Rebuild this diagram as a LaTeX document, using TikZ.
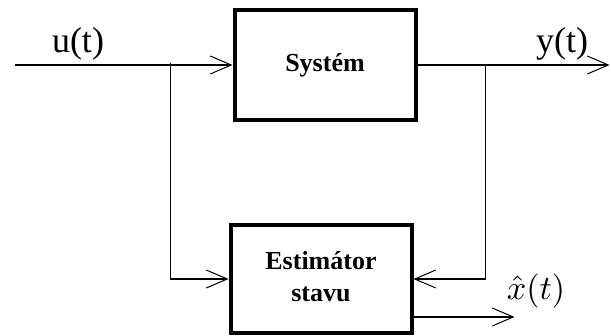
\documentclass[tikz,border=0pt]{standalone}
\usepackage{fontspec}
\setmainfont{Liberation Serif}
\usetikzlibrary{positioning, arrows.meta}

\begin{document}
\begin{tikzpicture}[x=1pt, y=1pt,
		blok/.style={draw, line width=4pt, minimum width=181pt, font=\fontsize{26}{32}\selectfont\bfseries, align=center},
		sig/.style={line width=1.2pt, -{Straight Barb[length=21pt, width=18pt, line width=1pt]}},
		lbl/.style={font=\fontsize{36}{42}\selectfont}]
		\useasboundingbox (0,0) rectangle (611,335);
		\node[blok, minimum height=110pt] (sys) at (325,270) {Systém};
		\node[blok, minimum height=108pt, below=101pt of sys, xshift=-4pt] (est)
			{\raisebox{-7pt}{\begin{tabular}{@{}c@{}}Estimátor\\stavu\end{tabular}}};
		
		\coordinate (in) at ([xshift=-218pt]sys.west);
		\coordinate (out) at ([xshift=192pt]sys.east);
		\coordinate (sp1) at ([xshift=-62pt]sys.west);
		\coordinate (sp2) at ([xshift=68pt]sys.east);
		\coordinate (xo) at ([yshift=-38pt]est.east);
		
		\draw[sig] (in) -- (sys.west);
		\draw[sig] (sys.east) -- (out);
		\draw[sig] ([yshift=2pt]sp1) |- (est.west);
		\draw[sig] (sp2) |- (est.east);
		\draw[sig] (xo) -- ++(101,0);
		
		\node[lbl] (u) at (78,291) {u(t)};
		\node[lbl] (y) at (562,291) {y(t)};
		\node[scale=3.4] (xh) at (536,44) {$\hat{x}(t)$};
	\end{tikzpicture}
\end{document}
